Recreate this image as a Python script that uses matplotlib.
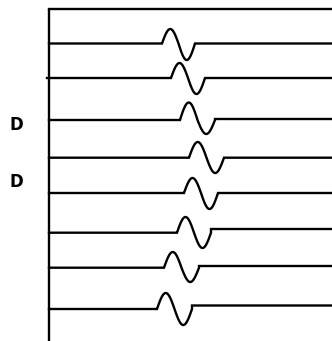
import numpy as np
import matplotlib.pyplot as plt

# trace geometry (pixel units, y grows downwards)
base_left = [43.5, 78.0, 120.0, 157.7, 193.0, 232.7, 267.7, 309.0]
base_right = [43.5, 78.0, 119.0, 157.7, 193.0, 229.0, 266.0, 305.5]
line_start = [49, 47, 49, 49, 49, 49, 49, 49]
wave_start = [162, 171, 180, 189, 184, 177, 164, 157]
wave_width = [33, 34, 35, 35, 34, 34, 35, 35]
peak_up = [14.5, 15.0, 17.5, 15.7, 15.0, 15.7, 15.7, 16.0]
trough_down = [16.5, 16.0, 14.0, 15.3, 16.0, 15.3, 14.3, 16.0]

labels = ["D", "D"]
label_y = [124.5, 182.0]

W, H = 332, 341
fig = plt.figure(figsize=(W / 100, H / 100), dpi=100)
ax = fig.add_axes([0, 0, 1, 1])
ax.set_xlim(0, W)
ax.set_ylim(H, 0)
ax.axis("off")

lw = 1.7
# axis frame: vertical line and top line
ax.plot([49, 49], [9, H], color="black", lw=lw, solid_capstyle="butt")
ax.plot([49, W], [9, 9], color="black", lw=lw, solid_capstyle="projecting")

for i in range(len(base_left)):
    yl, yr = base_left[i], base_right[i]
    x0, w = wave_start[i], wave_width[i]
    t = np.linspace(0, 1, 80)
    s = np.sin(2 * np.pi * t)
    amp = np.where(s > 0, peak_up[i], trough_down[i])
    xs = np.concatenate([[line_start[i]], x0 + w * t, [x0 + w, W]])
    ys = np.concatenate([[yl], yl - amp * s, [yr, yr]])
    ax.plot(xs, ys, color="black", lw=lw, solid_joinstyle="miter")

for lab, y in zip(labels, label_y):
    ax.text(16.5, y, lab, fontsize=12, fontweight="bold",
            ha="center", va="center", family="DejaVu Sans")

fig.savefig("out.png", dpi=100)
